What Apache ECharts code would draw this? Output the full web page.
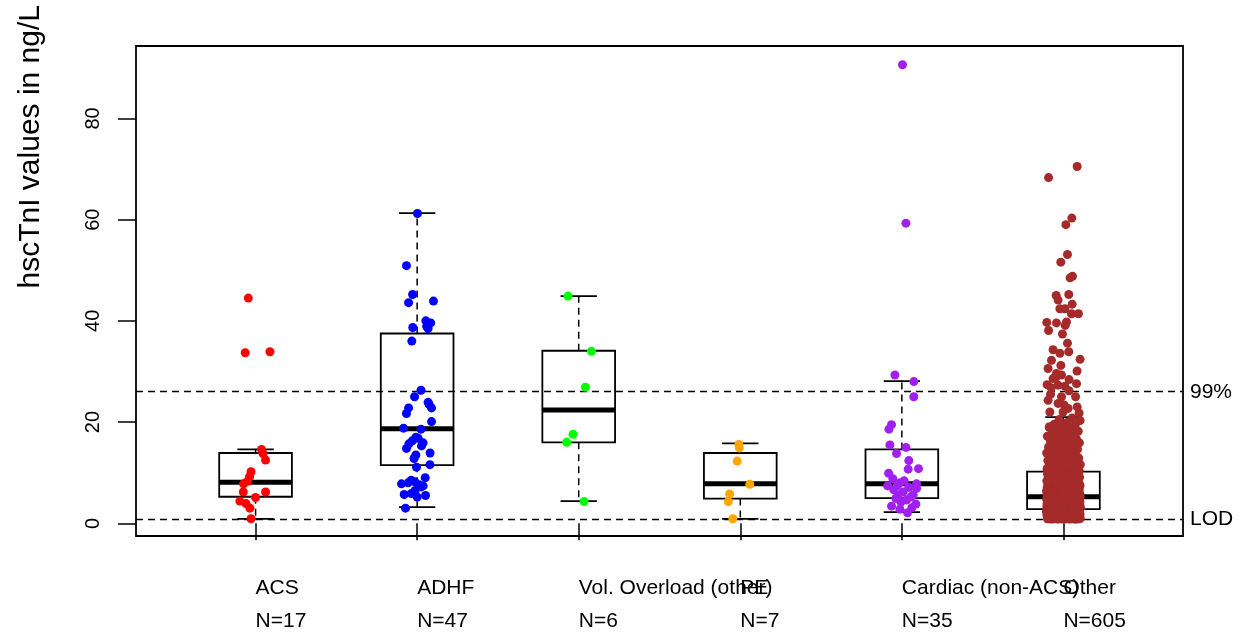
<!DOCTYPE html>
<html>
<head>
<meta charset="utf-8">
<script src="https://cdn.jsdelivr.net/npm/echarts@6/dist/echarts.min.js"></script>
<style>
  html, body { margin: 0; padding: 0; background: #fff; }
  #chart { width: 1254px; height: 638px; }
</style>
</head>
<body>
<div id="chart"></div>
<script>
// ---------------- data ----------------
const categories = ['ACS', 'ADHF', 'Vol. Overload (other)', 'PE', 'Cardiac (non-ACS)', 'Other'];
const groupSizes = [17, 47, 6, 7, 35, 605];
const yTicks = [0, 20, 40, 60, 80];
const refValues = [26, 0.9];
const refLabels = ['99%', 'LOD'];
const yTitle = 'hscTnI values in ng/L';

// box statistics per category (lower whisker, Q1, median, Q3, upper whisker)
const boxMin    = [0.9, 3.2, 4.4, 0.9, 2.2, 0.9];
const boxQ1     = [5.25, 11.5, 16.0, 4.9, 5.0, 2.8];
const boxMedian = [8.1, 18.7, 22.4, 7.8, 7.8, 5.25];
const boxQ3     = [13.9, 37.5, 34.1, 13.9, 14.6, 10.2];
const boxMax    = [14.6, 61.3, 44.9, 15.8, 28.1, 21.0];

// individual measurements and their horizontal jitter (x-axis units)
const acsValues = [44.5, 33.7, 33.9, 14.6, 13.8, 12.5, 10.2, 9.2, 8.3, 7.8, 6.2, 6.2, 5.1, 4.4, 3.9, 3.0, 0.9];
const acsOffset = [-0.045, -0.064, 0.089, 0.037, 0.046, 0.062, -0.028, -0.037, -0.050, -0.074, -0.076, 0.062, 0.0, -0.097, -0.059, -0.035, -0.028];

const adhfValues = [61.2, 50.9, 45.2, 43.6, 43.9, 40.0, 39.6, 38.5, 38.7, 36.0, 26.3, 25.0, 23.9, 22.8, 22.8, 21.7, 20.1, 18.8, 18.6, 17.0,
  16.3, 15.7, 15.3, 14.8, 13.9, 13.5, 12.8, 11.6, 11.1, 7.8, 8.0, 8.2, 7.6, 7.4, 5.7, 5.9, 5.5, 3.0, 8.5, 7.2, 16.8, 15.9, 6.5, 9.0, 38.9, 23.5, 5.2];
const adhfOffset = [0.002, -0.066, -0.028, -0.053, 0.101, 0.054, 0.084, 0.068, -0.027, -0.033, 0.024, -0.016, 0.068, 0.089, -0.053, -0.066, 0.089, -0.084, 0.024, -0.008,
  -0.030, -0.051, 0.027, -0.066, 0.080, -0.008, -0.019, 0.079, -0.004, -0.097, -0.056, -0.014, 0.012, 0.037, -0.080, -0.035, 0.052, -0.072, -0.037, 0.025, 0.006, 0.037, -0.012, 0.050, 0.059, 0.074, 0.0];

const volValues = [44.9, 34.0, 26.9, 17.6, 16.0, 4.3];
const volOffset = [-0.066, 0.079, 0.041, -0.035, -0.074, 0.033];

const peValues = [15.6, 14.9, 12.3, 7.7, 5.8, 4.3, 0.9];
const peOffset = [-0.009, -0.006, -0.019, 0.059, -0.066, -0.074, -0.046];

const cardiacValues = [90.6, 59.3, 29.3, 28.0, 25.0, 19.5, 18.6, 15.5, 15.0, 13.8, 12.4, 10.7, 10.8, 9.9, 8.0, 8.4, 7.8, 7.4, 7.4, 6.9,
  6.2, 5.6, 5.6, 4.9, 4.6, 3.8, 3.4, 2.8, 2.1, 6.6, 5.2, 4.2, 7.1, 3.1, 8.8];
const cardiacOffset = [0.004, 0.025, -0.043, 0.074, 0.074, -0.064, -0.080, -0.074, 0.025, -0.033, 0.043, 0.039, 0.103, -0.082, -0.012, 0.014, 0.091, -0.088, -0.029, 0.091,
  0.008, -0.023, 0.070, -0.037, 0.029, 0.087, -0.064, -0.012, 0.035, -0.050, 0.056, -0.006, 0.043, 0.062, -0.056];

const otherValues = [
  70.5, 68.3, 60.3, 59.0, 53.1, 51.6, 48.8, 48.5, 45.0, 45.2, 44.1, 43.3, 42.4, 42.4, 41.4, 41.4, 39.7, 39.6, 39.8, 38.1,
  39.1, 37.4, 35.6, 34.3, 33.6, 33.9, 32.4, 32.2, 31.2, 30.6, 29.6, 29.3, 28.6, 28.4, 27.6, 27.4, 27.3, 27.1, 25.5, 25.0,
  25.0, 23.7, 23.0, 22.7, 22.0, 22.0, 21.8,
  24.3, 26.2, 28.9, 30.1, 23.4, 26.8,
  20.8, 20.5, 20.3, 19.9, 19.6, 19.4, 19.2, 18.9, 18.7, 18.5, 18.2, 18.0, 17.9, 17.6, 17.4, 17.2, 17.0, 16.9, 16.7, 16.5,
  16.3, 16.2, 16.0, 15.9, 15.7, 15.5, 15.4, 15.2, 15.1, 14.9, 14.8, 14.6, 14.5, 14.3, 14.2, 14.0, 13.9, 13.8, 13.6, 13.5,
  13.4, 13.3, 13.1, 13.0, 12.9, 12.8, 12.7, 12.6, 12.5, 12.4, 12.3, 12.2, 12.1, 12.0, 11.9, 11.8, 11.8, 11.7, 11.6, 11.5,
  11.4, 11.4, 11.3, 11.2, 11.1, 11.1, 11.0, 10.9, 10.9, 10.8, 10.8, 10.7, 10.7, 10.6, 10.6, 10.5, 10.5, 10.4, 10.4, 10.3,
  10.3, 10.3, 10.2, 10.2, 17.7, 16.6, 15.8, 14.7, 13.7, 12.9, 12.2, 11.6, 11.3, 10.9, 10.6, 10.4, 19.1, 15.3,
  10.1, 10.0, 9.9, 9.9, 9.8, 9.7, 9.7, 9.6, 9.5, 9.5, 9.4, 9.3, 9.3, 9.2, 9.1, 9.1, 9.0, 9.0, 8.9, 8.8,
  8.8, 8.7, 8.7, 8.6, 8.6, 8.5, 8.5, 8.4, 8.4, 8.3, 8.3, 8.2, 8.2, 8.1, 8.1, 8.0, 8.0, 7.9, 7.9, 7.9,
  7.8, 7.8, 7.7, 7.7, 7.7, 7.6, 7.6, 7.5, 7.5, 7.5, 7.4, 7.4, 7.4, 7.3, 7.3, 7.3, 7.2, 7.2, 7.2, 7.1,
  7.1, 7.1, 7.0, 7.0, 7.0, 6.9, 6.9, 6.9, 6.8, 6.8, 6.8, 6.8, 6.7, 6.7, 6.7, 6.6, 6.6, 6.6, 6.6, 6.5,
  6.5, 6.5, 6.4, 6.4, 6.4, 6.4, 6.3, 6.3, 6.3, 6.3, 6.2, 6.2, 6.2, 6.2, 6.1, 6.1, 6.1, 6.1, 6.0, 6.0,
  6.0, 6.0, 5.9, 5.9, 5.9, 5.9, 5.9, 5.8, 5.8, 5.8, 5.8, 5.8, 5.7, 5.7, 5.7, 5.7, 5.7, 5.6, 5.6, 5.6,
  5.6, 5.6, 5.5, 5.5, 5.5, 5.5, 5.5, 5.4, 5.4, 5.4, 5.4, 5.4, 5.3, 5.3, 5.3, 5.3, 5.3, 5.3, 9.6, 8.9,
  7.6, 6.9, 6.1, 5.8, 8.2, 7.0, 6.4, 5.6, 9.0, 7.3, 6.5,
  5.2, 5.2, 5.2, 5.1, 5.1, 5.1, 5.1, 5.0, 5.0, 5.0, 5.0, 4.9, 4.9, 4.9, 4.9, 4.8, 4.8, 4.8, 4.8, 4.7,
  4.7, 4.7, 4.7, 4.6, 4.6, 4.6, 4.6, 4.5, 4.5, 4.5, 4.5, 4.4, 4.4, 4.4, 4.4, 4.3, 4.3, 4.3, 4.3, 4.2,
  4.2, 4.2, 4.2, 4.1, 4.1, 4.1, 4.1, 4.0, 4.0, 4.0, 4.0, 3.9, 3.9, 3.9, 3.9, 3.8, 3.8, 3.8, 3.8, 3.7,
  3.7, 3.7, 3.7, 3.6, 3.6, 3.6, 3.6, 3.5, 3.5, 3.5, 3.5, 3.4, 3.4, 3.4, 3.4, 3.3, 3.3, 3.3, 3.3, 3.2,
  3.2, 3.2, 3.2, 3.1, 3.1, 3.1, 3.1, 3.0, 3.0, 3.0, 3.0, 2.9, 2.9, 2.9, 2.9, 2.8, 2.8, 2.8, 2.8, 2.8,
  5.2, 5.0, 4.8, 4.6, 4.4, 4.2, 4.0, 3.8, 3.6, 3.4, 3.2, 3.0, 2.9, 5.1, 4.9, 4.7, 4.5, 4.3, 4.1, 3.9,
  3.7, 3.5, 3.3, 3.1, 2.9, 5.0, 4.6, 4.2, 3.8, 3.4, 3.0, 4.8, 4.4, 4.0, 3.6, 3.2, 2.9, 4.5, 3.9, 3.3,
  4.9, 4.1, 3.5, 3.0, 4.3, 3.7, 3.1, 4.7, 3.8, 4.2, 3.6,
  2.7, 2.7, 2.7, 2.6, 2.6, 2.6, 2.6, 2.5, 2.5, 2.5, 2.5, 2.4, 2.4, 2.4, 2.4, 2.3, 2.3, 2.3, 2.3, 2.2,
  2.2, 2.2, 2.2, 2.1, 2.1, 2.1, 2.1, 2.0, 2.0, 2.0, 2.0, 1.9, 1.9, 1.9, 1.9, 1.8, 1.8, 1.8, 1.8, 1.7,
  1.7, 1.7, 1.7, 1.6, 1.6, 1.6, 1.6, 1.5, 1.5, 1.5, 1.5, 1.4, 1.4, 1.4, 1.4, 1.3, 1.3, 1.3, 1.3, 1.2,
  1.2, 1.2, 1.2, 1.1, 1.1, 1.1, 1.1, 1.0, 1.0, 1.0, 1.0, 0.9, 0.9, 0.9, 0.9, 0.9, 0.9, 0.9, 0.9, 0.9,
  0.9, 0.9, 0.9, 0.9, 0.9, 0.9, 0.9, 0.9, 0.9, 0.9, 0.9, 0.9, 0.9, 0.9, 0.9, 0.9, 0.9, 0.9, 0.9, 0.9,
  2.6, 2.4, 2.2, 2.0, 1.8, 1.6, 1.4, 1.2, 1.0, 0.9, 2.7, 2.5, 2.3, 2.1, 1.9, 1.7, 1.5, 1.3, 1.1, 0.9,
  2.6, 2.3, 2.0, 1.7, 1.4, 1.1, 0.9, 2.5, 2.2, 1.9, 1.6, 1.3, 1.0, 0.9, 2.4, 2.1, 1.8, 1.5, 1.2, 0.9,
  2.7, 2.0, 1.3, 0.9, 2.2, 1.6, 1.0, 0.9, 1.8, 1.1, 0.9, 2.5
];
// jitter read for the separately visible high values of "Other"
const otherOffset = [0.085, -0.092, 0.052, 0.015, 0.025, -0.016, 0.056, 0.041, -0.045, 0.033, -0.033, 0.054, -0.022, 0.009, 0.093, 0.050, -0.103, -0.043, 0.019, -0.092,
  0.011, -0.006, 0.025, -0.064, -0.022, 0.033, 0.103, -0.074, -0.016, -0.095, -0.043, -0.012, -0.064, 0.035, 0.081, -0.101, -0.033, 0.009, -0.080, -0.012,
  0.075, -0.033, 0.085, 0.029, -0.084, -0.002, 0.097];

// ---------------- styling / layout ----------------
const FONT = 'Liberation Sans, Arial, Helvetica, sans-serif';
const groupColors = ['#FF0000', '#0000FF', '#00FF00', '#FFA500', '#A020F0', '#A52A2A'];
const BOX_WIDTH = 0.45;
const JITTER_SPAN = 0.21;
const X_MIN = 0.26, X_MAX = 6.74;

function spreadOffset(i) {
  // deterministic even spread for the hidden dense points
  return (((i * 0.6180339887) % 1) - 0.5) * JITTER_SPAN;
}

const groups = [
  [acsValues, acsOffset], [adhfValues, adhfOffset], [volValues, volOffset],
  [peValues, peOffset], [cardiacValues, cardiacOffset], [otherValues, otherOffset]
];

const boxData = categories.map((c, i) => [i + 1, boxMin[i], boxQ1[i], boxMedian[i], boxQ3[i], boxMax[i]]);
const catPositions = categories.map((c, i) => i + 1);
const oddPositions = catPositions.filter(p => p % 2 === 1);
const evenPositions = catPositions.filter(p => p % 2 === 0);

function renderBox(params, api) {
  const x = api.value(0);
  const lo = api.coord([x, api.value(1)]);
  const q1 = api.coord([x, api.value(2)]);
  const md = api.coord([x, api.value(3)]);
  const q3 = api.coord([x, api.value(4)]);
  const hi = api.coord([x, api.value(5)]);
  const hw = api.size([BOX_WIDTH, 0])[0] / 2;
  const cx = lo[0];
  const dashStyle = { stroke: '#000', lineWidth: 1.5, lineDash: [7, 5] };
  const solid = { stroke: '#000', lineWidth: 1.8 };
  return {
    type: 'group',
    children: [
      { type: 'line', shape: { x1: cx, y1: q3[1], x2: cx, y2: hi[1] }, style: dashStyle },
      { type: 'line', shape: { x1: cx, y1: q1[1], x2: cx, y2: lo[1] }, style: dashStyle },
      { type: 'line', shape: { x1: cx - hw / 2, y1: hi[1], x2: cx + hw / 2, y2: hi[1] }, style: solid },
      { type: 'line', shape: { x1: cx - hw / 2, y1: lo[1], x2: cx + hw / 2, y2: lo[1] }, style: solid },
      { type: 'rect', shape: { x: cx - hw, y: q3[1], width: 2 * hw, height: q1[1] - q3[1] }, style: { fill: 'none', stroke: '#000', lineWidth: 1.8 } },
      { type: 'line', shape: { x1: cx - hw, y1: md[1], x2: cx + hw, y2: md[1] }, style: { stroke: '#000', lineWidth: 5 } }
    ]
  };
}

const pointSeries = groups.map(([vals, offs], k) => ({
  type: 'scatter',
  name: categories[k],
  z: 5,
  xAxisIndex: 0,
  symbol: 'circle',
  symbolSize: 9,
  itemStyle: { color: groupColors[k], opacity: 1 },
  emphasis: { disabled: true },
  data: vals.map((v, i) => [k + 1 + (i < offs.length ? offs[i] : spreadOffset(i)), v])
}));

const labelFormatter = v => categories[Math.round(v) - 1] + '\nN=' + groupSizes[Math.round(v) - 1];
const labelStyle = {
  formatter: labelFormatter,
  align: 'left', margin: 36, fontSize: 21, lineHeight: 33, color: '#000', fontFamily: FONT,
  hideOverlap: false, showMinLabel: true, showMaxLabel: true
};

const chart = echarts.init(document.getElementById('chart'), null, { renderer: 'canvas' });
chart.setOption({
  animation: false,
  backgroundColor: '#fff',
  textStyle: { fontFamily: FONT },
  grid: { left: 136, top: 46, right: 71, bottom: 102, show: true, borderColor: '#000', borderWidth: 1.8, backgroundColor: 'transparent' },
  xAxis: [{
    type: 'value', min: X_MIN, max: X_MAX, position: 'bottom',
    axisLine: { show: false },
    splitLine: { show: false },
    axisTick: { show: true, customValues: catPositions, length: 17, lineStyle: { color: '#000', width: 1.5 } },
    axisLabel: Object.assign({ customValues: oddPositions }, labelStyle)
  }, {
    type: 'value', min: X_MIN, max: X_MAX, position: 'bottom', offset: 0,
    axisLine: { show: false },
    splitLine: { show: false },
    axisTick: { show: false },
    axisLabel: Object.assign({ customValues: evenPositions }, labelStyle)
  }],
  yAxis: {
    type: 'value', min: -2.5, max: 94.3,
    axisLine: { show: false },
    splitLine: { show: false },
    axisTick: { show: true, customValues: yTicks, length: 18, lineStyle: { color: '#000', width: 1.5 } },
    axisLabel: { customValues: yTicks, rotate: 90, margin: 33, fontSize: 20, color: '#000', fontFamily: FONT, showMinLabel: true, showMaxLabel: true }
  },
  graphic: [{
    type: 'text',
    left: 16, top: 5,
    rotation: Math.PI / 2,
    originX: 0, originY: 0,
    style: { text: yTitle, fontSize: 30, fontFamily: FONT, fill: '#000' }
  }],
  series: [{
    type: 'custom',
    name: 'box',
    z: 2,
    xAxisIndex: 0,
    renderItem: renderBox,
    encode: { x: 0, y: [1, 2, 3, 4, 5] },
    data: boxData,
    silent: true,
    markLine: {
      silent: true,
      symbol: 'none',
      z: 1,
      lineStyle: { color: '#000', type: [7, 5], width: 1.4 },
      label: { position: 'end', distance: 7, formatter: p => p.name, fontSize: 21, color: '#000', fontFamily: FONT },
      data: refValues.map((v, i) => ({ name: refLabels[i], yAxis: v }))
    }
  }].concat(pointSeries)
});
</script>
</body>
</html>
